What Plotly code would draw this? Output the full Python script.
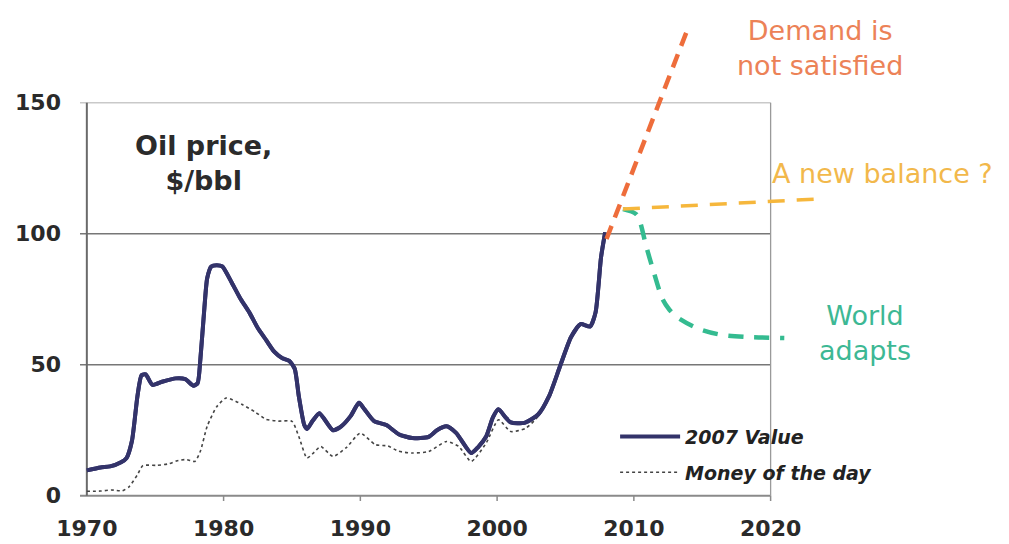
import plotly.graph_objects as go

# ---------------- data ----------------
value_years = [1970.0, 1971.0, 1971.7, 1972.5, 1972.9, 1973.3, 1973.7, 1974.0, 1974.3, 1974.8,
               1975.5, 1976.5, 1977.2, 1977.8, 1978.1, 1978.3, 1978.6, 1978.8, 1979.1, 1979.5,
               1979.9, 1980.6, 1981.2, 1981.9, 1982.5, 1983.1, 1983.7, 1984.3, 1984.8, 1985.2,
               1985.5, 1985.9, 1986.1, 1986.5, 1987.0, 1987.4, 1988.0, 1988.6, 1989.3, 1989.9,
               1990.3, 1991.0, 1991.9, 1992.8, 1993.8, 1995.0, 1995.6, 1996.3, 1997.0, 1998.1,
               1998.6, 1999.2, 1999.7, 2000.1, 2000.6, 2001.0, 2002.0, 2003.0, 2003.8, 2004.6,
               2005.4, 2006.1, 2006.8, 2007.2, 2007.6, 2007.9]
value_2007 = [9.7, 10.8, 11.2, 12.8, 14.4, 21, 38, 46, 46.3, 42.3,
              43.5, 44.8, 44.5, 42, 43, 52, 72, 83, 87.5, 88,
              87.5, 81.3, 75.5, 69.8, 64, 59.5, 55, 52.5, 51.5, 48.5,
              38, 27, 25.5, 28.5, 31.5, 29, 25, 26.5, 30.5, 35.5,
              33, 28.5, 27, 23.5, 22, 22.5, 25, 26.5, 24, 16.3,
              18.5, 22.6, 30, 33, 30, 28, 27.8, 31, 38, 49.4,
              60.5, 65.5, 64.6, 70, 91, 100.5]

money_years = [1970.0, 1971.0, 1971.8, 1972.6, 1973.1, 1973.7, 1974.1, 1975.1, 1976.0, 1976.7,
               1977.3, 1977.9, 1978.3, 1978.8, 1979.5, 1980.2, 1981.4, 1982.3, 1983.1, 1984.0,
               1985.0, 1985.5, 1986.1, 1986.6, 1987.1, 1988.0, 1989.0, 1990.0, 1991.1, 1992.0,
               1992.8, 1993.8, 1995.0, 1996.3, 1997.2, 1998.1, 1999.2, 2000.1, 2001.0, 2002.1,
               2003.0, 2003.8, 2004.6, 2005.4, 2006.1, 2006.8, 2007.2, 2007.6, 2007.9]
money_of_day = [1.7, 1.8, 2.2, 1.9, 3.5, 8, 11.5, 11.6, 12.2, 13.5,
                13.8, 13.1, 17, 26.5, 34, 37.3, 34.7, 32, 29.2, 28.5,
                28.4, 22.6, 14.4, 16.5, 18.8, 15, 18.5, 23.9, 19.5, 19,
                17, 16.3, 16.9, 20.7, 18.8, 13.1, 20.1, 29, 24.5, 25.8,
                30.3, 37.5, 49, 60.2, 65.3, 64.5, 70, 91, 100.5]

demand_years = [2008.0, 2013.85]
demand_vals = [98, 177]

balance_years = [2009.2, 2023.6]
balance_vals = [109.4, 113.3]

adapt_years = [2009.2, 2010.2, 2010.9, 2011.4, 2012.1, 2012.6, 2013.1, 2014.6, 2016.3, 2018.2, 2021.0]
adapt_vals = [109.4, 107.3, 95.2, 86.3, 75, 71, 68.4, 64, 61.5, 60.6, 60.2]

x_ticks = [1970, 1980, 1990, 2000, 2010, 2020]
y_ticks = [0, 50, 100, 150]

# ---------------- styles ----------------
NAVY = "#33336a"
ORANGE = "#ee6d3b"
YELLOW = "#f6b73c"
TEAL = "#34bb90"
FONT = "DejaVu Sans"

fig = go.Figure()

fig.add_trace(go.Scatter(
    x=value_years, y=value_2007, mode="lines", name="<b><i>2007 Value</i></b>",
    line=dict(color=NAVY, width=4, shape="spline", smoothing=0.6),
    legendgroup="a"))
fig.add_trace(go.Scatter(
    x=money_years, y=money_of_day, mode="lines", name="<b><i>Money of the day</i></b>",
    line=dict(color="#444444", width=1.6, dash="dot", shape="spline", smoothing=0.6),
    legendgroup="b"))
# the 2007 value again on top so it covers the merged part of the dotted line
fig.add_trace(go.Scatter(
    x=value_years, y=value_2007, mode="lines", showlegend=False, hoverinfo="skip",
    line=dict(color=NAVY, width=4, shape="spline", smoothing=0.6)))

fig.add_trace(go.Scatter(
    x=adapt_years, y=adapt_vals, mode="lines", showlegend=False,
    line=dict(color=TEAL, width=4.5, dash="15px,11px", shape="spline", smoothing=0.8)))
fig.add_trace(go.Scatter(
    x=balance_years, y=balance_vals, mode="lines", showlegend=False,
    line=dict(color=YELLOW, width=3.5, dash="17px,12px")))
fig.add_trace(go.Scatter(
    x=demand_years, y=demand_vals, mode="lines", showlegend=False,
    line=dict(color=ORANGE, width=4.5, dash="14px,9px")))

# ---------------- axes furniture (grid / axis lines) ----------------
shapes = []
for v in y_ticks:
    if v == 0:
        col, w = "#8a8a8a", 2
    elif v == 150:
        col, w = "#c9c9c9", 1.5
    else:
        col, w = "#777777", 1.5
    shapes.append(dict(type="line", xref="x", yref="y", x0=1969.4, x1=x_ticks[-1],
                       y0=v, y1=v, line=dict(color=col, width=w), layer="below"))
shapes.append(dict(type="line", xref="x", yref="y", x0=x_ticks[0], x1=x_ticks[0],
                   y0=y_ticks[0], y1=y_ticks[-1], line=dict(color="#6a6a6a", width=2), layer="below"))
shapes.append(dict(type="line", xref="x", yref="y", x0=x_ticks[-1], x1=x_ticks[-1],
                   y0=y_ticks[0], y1=y_ticks[-1], line=dict(color="#9a9a9a", width=1.3), layer="below"))
# small tick marks below the x axis
for t in x_ticks[1:]:
    shapes.append(dict(type="line", xref="x", yref="y", x0=t, x1=t, y0=0, y1=-2,
                       line=dict(color="#8a8a8a", width=1.5), layer="below"))

annotations = [
    dict(x=0.163, y=0.69, xref="paper", yref="paper", text="<b>Oil price,<br>$/bbl</b>",
         xanchor="center", yanchor="middle",
         showarrow=False, font=dict(family=FONT, size=27, color="#2b2b2b"), align="center"),
    dict(x=0.975, y=0.924, xref="paper", yref="paper", text="Demand is<br>not satisfied",
         xanchor="center", yanchor="middle",
         showarrow=False, font=dict(family=FONT, size=27, color="#ec8257"), align="center"),
    dict(x=1.0567, y=0.669, xref="paper", yref="paper", text="A new balance ?",
         xanchor="center", yanchor="middle",
         showarrow=False, font=dict(family=FONT, size=27, color="#f2b84b"), align="center"),
    dict(x=1.034, y=0.343, xref="paper", yref="paper", text="World<br>adapts",
         xanchor="center", yanchor="middle",
         showarrow=False, font=dict(family=FONT, size=27, color="#3db894"), align="center"),
]

fig.update_layout(
    width=1001, height=536,
    margin=dict(l=72, r=170, t=3, b=43),
    paper_bgcolor="white", plot_bgcolor="white",
    shapes=shapes, annotations=annotations,
    showlegend=True,
    legend=dict(x=0.705, y=0.17, xanchor="left", yanchor="top", itemwidth=60,
                bgcolor="rgba(0,0,0,0)", tracegroupgap=8, traceorder="grouped",
                font=dict(family=FONT, size=19, color="#222222")),
    xaxis=dict(range=[1969.5, 2025], tickvals=x_ticks, ticktext=[str(t) for t in x_ticks],
               showgrid=False, zeroline=False, showline=False, automargin=False,
               ticks="", ticklabelstandoff=12,
               tickfont=dict(family=FONT, size=22, color="#2a2a2a", weight="bold")),
    yaxis=dict(range=[-2, 185], tickvals=y_ticks, ticktext=[str(t) for t in y_ticks],
               showgrid=False, zeroline=False, showline=False, automargin=False,
               ticks="", ticklabelstandoff=18,
               tickfont=dict(family=FONT, size=22, color="#2a2a2a", weight="bold")),
)

fig.write_html("out.html")
